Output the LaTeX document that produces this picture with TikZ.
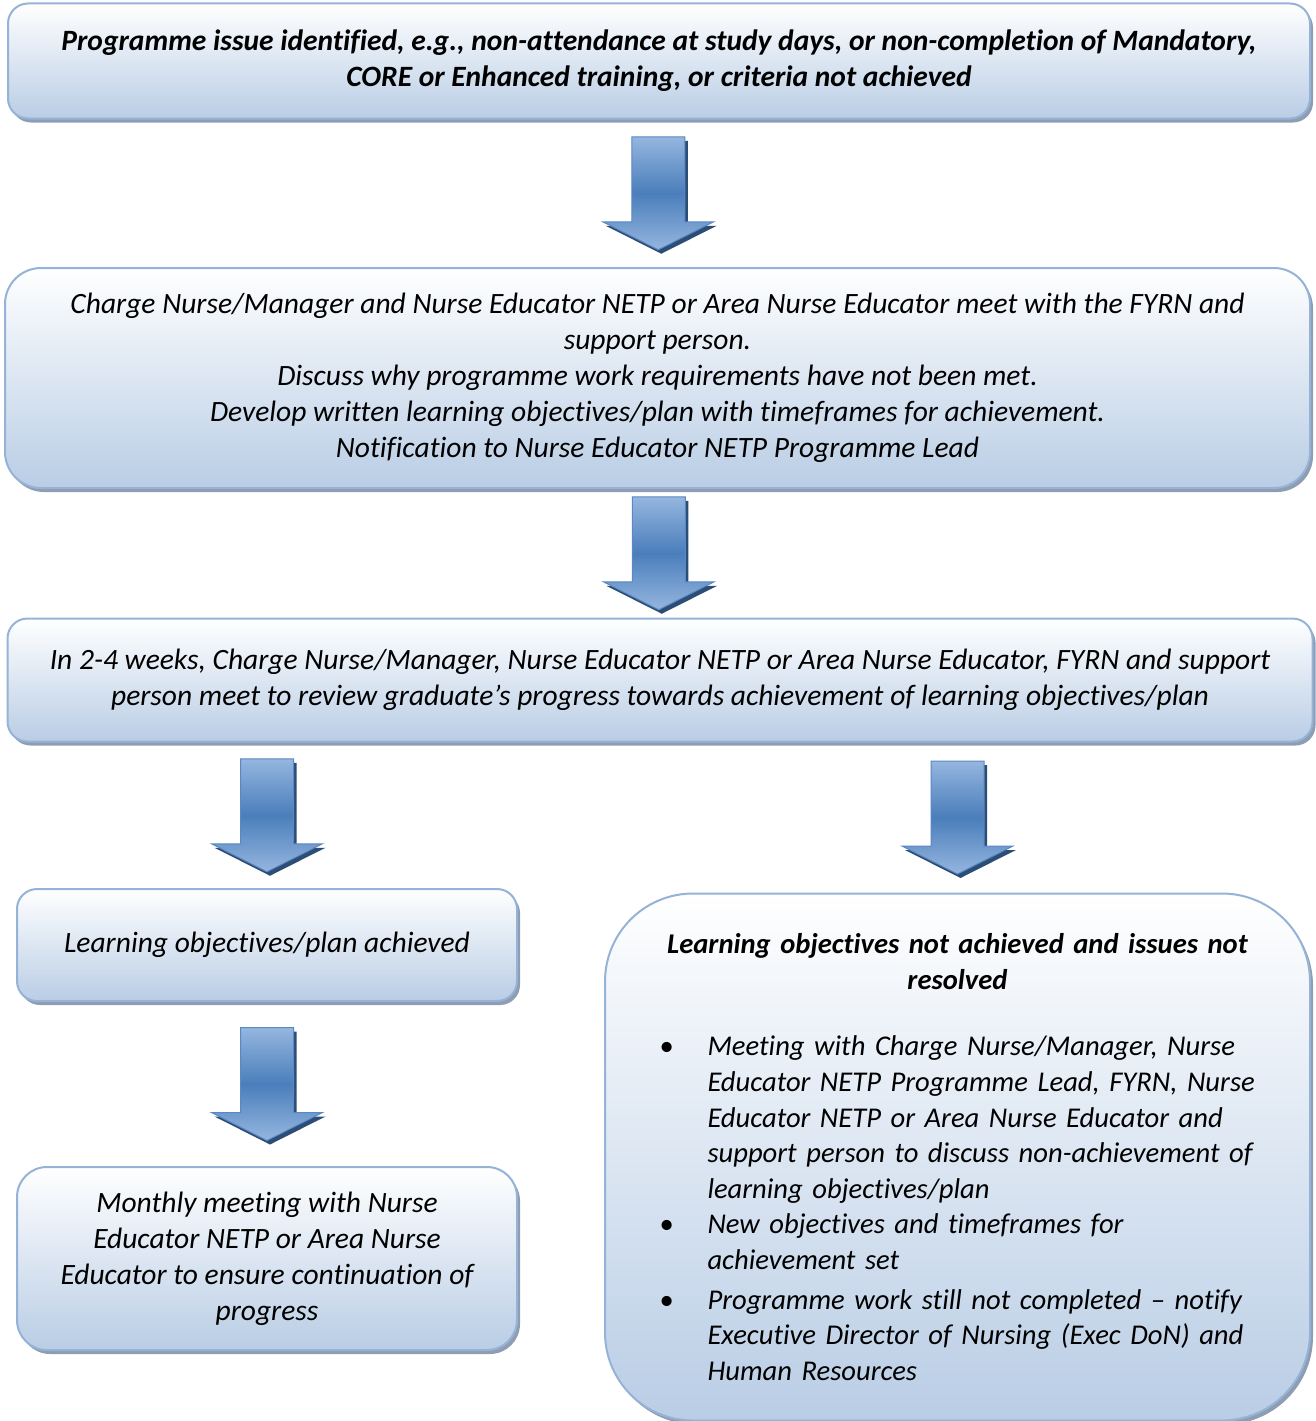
\documentclass[tikz,border=0pt]{standalone}
\usepackage{fontspec}
\setmainfont{Carlito}[Ligatures=NoCommon]
\usetikzlibrary{shadows,calc}

\definecolor{boxline}{HTML}{95B3D7}
\definecolor{boxfill}{HTML}{B9CDE5}
\definecolor{boxshadow}{HTML}{8E9DB2}
\definecolor{arrowlight}{HTML}{95B6DF}
\definecolor{arrowdark}{HTML}{4A7EBB}
\definecolor{arrowline}{HTML}{5A88C2}
\definecolor{arrowshadow}{HTML}{2C4D75}

% outline of the block arrow, around its centre
\newcommand{\arrowoutline}{(-26.5,-56.5) -- (26.5,-56.5) -- (26.5,28.5) -- (55.5,28.5)
  -- (0,56.5) -- (-55.5,28.5) -- (-26.5,28.5) -- cycle}

\tikzset{bigarrow/.pic={
  \fill[arrowshadow, shift={(3,4)}] \arrowoutline;
  \draw[arrowline, line width=1pt, top color=arrowlight, bottom color=arrowlight, middle color=arrowdark]
    \arrowoutline;
}}

\newcommand{\itembullet}{\par\hangindent=70pt\hangafter=1\noindent\hspace{22pt}\makebox[48pt][l]{\upshape\textbullet}}

\begin{document}
\begin{tikzpicture}[x=1pt, y=-1pt,
  every node/.style={font=\itshape\fontsize{29.5}{36}\selectfont, align=center, inner sep=0pt},
  flowbox/.style={draw=boxline, line width=2pt, top color=white, bottom color=boxfill,
    rounded corners=#1, drop shadow={shadow xshift=3pt, shadow yshift=-4pt, fill=boxshadow, opacity=1}},
  flowbox/.default=20pt]

\useasboundingbox (0,0) rectangle (1315,1421);

\node[flowbox, minimum width=1302pt, minimum height=115pt] (issue) at (659,61)
  {\bfseries Programme issue identified, e.g., non-attendance at study days, or non-completion of Mandatory,\\
   \bfseries CORE or Enhanced training, or criteria not achieved};

\node[flowbox=36pt, minimum width=1305pt, minimum height=220pt] (meet) at (657.5,378)
  {Charge Nurse/Manager and Nurse Educator NETP or Area Nurse Educator meet with the FYRN and\\
   support person.\\
   Discuss why programme work requirements have not been met.\\
   Develop written learning objectives/plan with timeframes for achievement.\\
   Notification to Nurse Educator NETP Programme Lead};

\node[flowbox, minimum width=1305pt, minimum height=123pt] (review) at (660,680)
  {In 2-4 weeks, Charge Nurse/Manager, Nurse Educator NETP or Area Nurse Educator, FYRN and support\\
   person meet to review graduate’s progress towards achievement of learning objectives/plan};

\node[flowbox, minimum width=500pt, minimum height=112pt] (achieved) at (267,945)
  {Learning objectives/plan achieved};

\node[flowbox=30pt, minimum width=500pt, minimum height=183pt] (monthly) at (267,1258.5)
  {Monthly meeting with Nurse\\
   Educator NETP or Area Nurse\\
   Educator to ensure continuation of\\
   progress};

\node[flowbox=88pt, minimum width=705pt, minimum height=527pt, text width=640pt, align=left,
  font=\itshape\fontsize{28.6}{35.6}\selectfont] (notmet) at (957.5,1157)
  {{\centering\bfseries Learning objectives not achieved and issues not\\ resolved\par}
   \raggedright\hyphenpenalty=10000
   \vspace{31pt}
   \itembullet Meeting with Charge Nurse/Manager, Nurse\newline
   Educator NETP Programme Lead, FYRN, Nurse\newline
   Educator NETP or Area Nurse Educator and\newline
   support person to discuss non-achievement of\newline
   learning objectives/plan
   \itembullet New objectives and timeframes for\newline
   achievement set\par
   \vspace{4pt}
   \itembullet Programme work still not completed – notify\newline
   Executive Director of Nursing (Exec DoN) and\newline
   Human Resources\par};

\pic at ($(issue.south)!0.5!(meet.north)$) {bigarrow};
\pic at ($(meet.south)!0.5!(review.north)$) {bigarrow};
\pic at ($(review.south -| achieved.north)!0.5!(achieved.north)$) {bigarrow};
\pic at ($(review.south -| notmet.north)!0.5!(notmet.north)$) {bigarrow};
\pic at ($(achieved.south)!0.5!(monthly.north)$) {bigarrow};
\end{tikzpicture}
\end{document}
